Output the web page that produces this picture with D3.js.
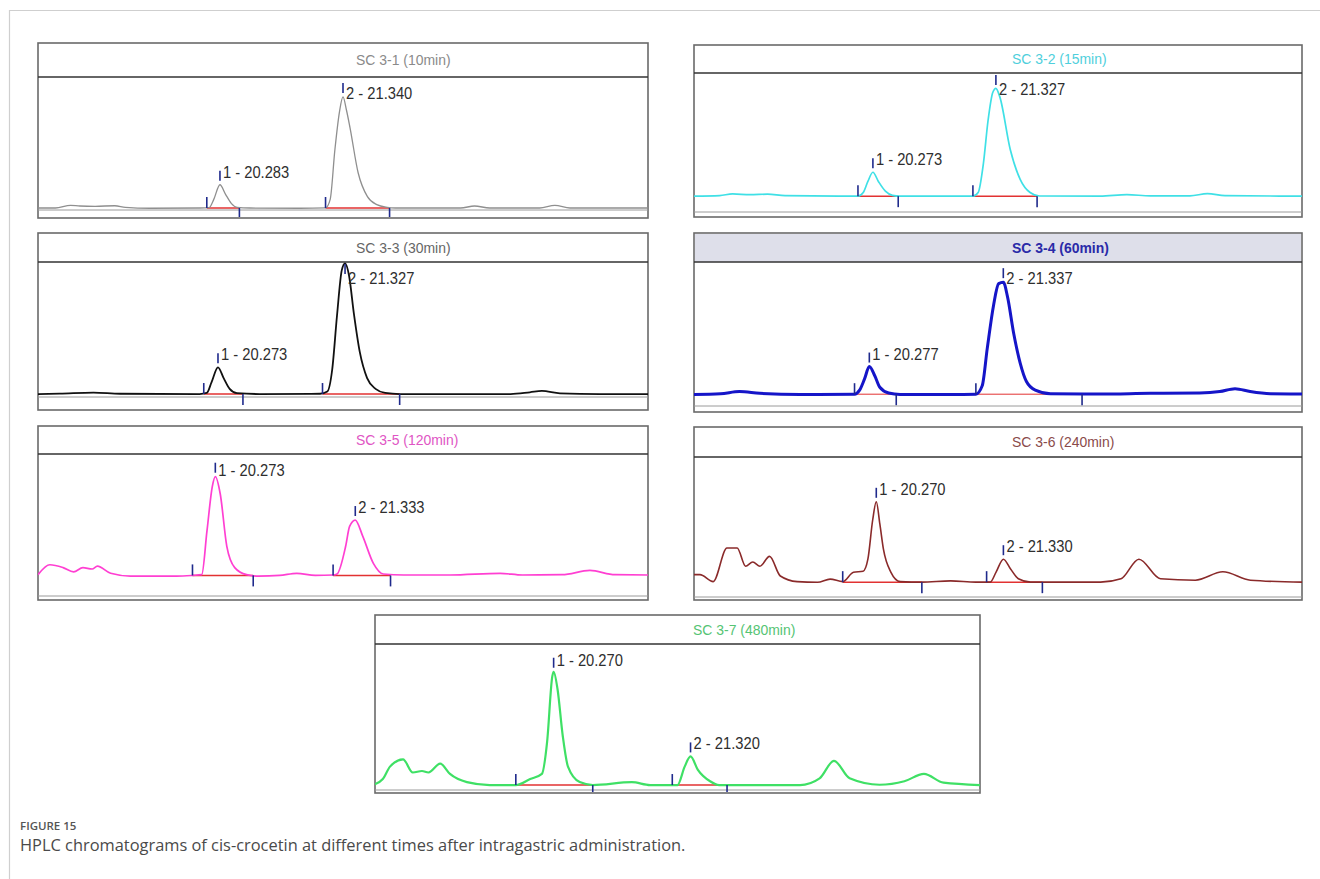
<!DOCTYPE html>
<html>
<head>
<meta charset="utf-8">
<script src="https://cdn.jsdelivr.net/npm/d3@7"></script>
<style>
  body { margin: 0; background: #fff; }
</style>
</head>
<body>
<div id="chart"></div>
<script>
// ---------------------------------------------------------------------------
// HPLC chromatograms, cis-crocetin, SC 3-1 ... SC 3-7
// x = retention time (min), y = detector response (% of plot height)
// ---------------------------------------------------------------------------

const sampleTitles = [
  'SC 3-1 (10min)', 'SC 3-2 (15min)', 'SC 3-3 (30min)', 'SC 3-4 (60min)',
  'SC 3-5 (120min)', 'SC 3-6 (240min)', 'SC 3-7 (480min)'
];

// visible retention-time window of each chromatogram
const timeWindows = [
  [18.72, 23.96], [18.74, 23.95], [18.78, 23.84], [18.89, 23.70],
  [18.93, 23.55], [18.75, 23.82], [18.90, 23.54]
];

// traces  [time, response]
const traceSC31 = [
  [18.72,1.5],[18.87,1.5],[19.00,3.5],[19.08,3],[19.21,2.8],[19.38,3.2],[19.47,2],[19.68,1.3],
  [20.11,1.5],[20.19,1.8],[20.23,8],[20.283,19],[20.33,12],[20.38,5],[20.43,2],[20.54,1.5],
  [20.97,1.3],[21.19,1.6],[21.23,8],[21.27,45],[21.31,74],[21.34,85],[21.37,75],[21.40,62],
  [21.47,28],[21.55,10],[21.63,4],[21.72,2],[21.79,1.5],[22.35,1.5],[22.47,3],[22.60,1.5],
  [23.03,1.5],[23.16,3.5],[23.29,1.5],[23.96,1.5]
];
const traceSC32 = [
  [18.74,11.4],[18.96,11.8],[19.07,13],[19.22,12.5],[19.37,12.8],[19.52,11.8],[20.145,11.4],
  [20.19,14],[20.23,22],[20.273,28.6],[20.32,22],[20.38,15],[20.44,12],[20.505,11.4],
  [21.13,11.4],[21.175,14],[21.22,35],[21.26,66],[21.30,86],[21.327,89],[21.36,83],
  [21.45,45],[21.535,23.5],[21.62,14],[21.70,11.5],[22.22,11.4],[22.45,12.5],[22.65,11.6],
  [22.99,11.6],[23.14,13.2],[23.29,11.8],[23.95,11.4]
];
const traceSC33 = [
  [18.78,2.2],[18.96,2.5],[19.24,3.3],[19.46,2.4],[20.12,2.2],[20.18,3],[20.22,11],[20.273,22],
  [20.32,14],[20.37,6],[20.43,2.8],[20.62,2.2],[21.12,2.4],[21.18,4],[21.22,20],[21.26,60],
  [21.30,94],[21.327,99],[21.36,90],[21.40,62],[21.45,33],[21.51,14],[21.58,6],[21.66,3],
  [21.78,2.2],[22.70,2.2],[22.86,3.5],[22.96,4.5],[23.11,2.7],[23.44,2.2],[23.84,2.2]
];
const traceSC34 = [
  [18.89,8],[19.10,8.5],[19.25,10],[19.41,8.8],[19.73,8],[20.16,8.2],[20.20,11],[20.24,19],
  [20.277,27.4],[20.32,21],[20.36,13],[20.43,9],[20.52,8],[20.92,8],[21.12,8.2],[21.17,14],
  [21.21,40],[21.26,70],[21.30,85],[21.337,86],[21.37,76],[21.42,50],[21.47,30],[21.52,17],
  [21.59,11],[21.71,8.5],[22.10,8.3],[22.50,8.8],[22.89,9],[23.05,10],[23.17,12],[23.29,10],
  [23.45,8.5],[23.70,8.3]
];
const traceSC35 = [
  [18.93,15],[19.02,22],[19.12,20],[19.20,17],[19.27,20],[19.34,19],[19.38,21],[19.48,16],
  [19.63,14],[19.98,14],[20.10,14.5],[20.17,15],[20.21,46],[20.25,77],[20.273,84],[20.31,72],
  [20.36,35],[20.42,20],[20.51,15],[20.60,14],[20.76,14.5],[20.89,16],[21.03,14.5],
  [21.165,14.8],[21.195,15.5],[21.26,35],[21.29,49],[21.333,53.5],[21.39,42],[21.47,23],
  [21.545,15.5],[21.70,14.8],[22.05,14.8],[22.43,16],[22.60,14.8],[22.90,15],[23.11,18],
  [23.30,15],[23.55,14.8]
];
const traceSC36 = [
  [18.75,16],[18.80,16],[18.91,11],[19.025,35],[19.11,35],[19.18,22],[19.24,25],[19.30,22],
  [19.38,29],[19.47,15],[19.61,11],[19.78,10.5],[19.885,12.8],[19.99,11],[20.08,17.7],
  [20.16,18.4],[20.20,27],[20.24,55],[20.27,68],[20.30,52],[20.33,34],[20.39,18],[20.47,11],
  [20.65,10.6],[20.89,11.5],[21.10,10.6],[21.22,10.6],[21.27,18],[21.33,27],[21.39,20],
  [21.455,13],[21.555,10.6],[22.14,10.6],[22.31,13],[22.46,27],[22.64,13],[22.93,12],
  [23.16,18],[23.39,12],[23.82,10.6]
];
const traceSC37 = [
  [18.90,4],[18.96,7.5],[19.015,16],[19.115,21],[19.19,12],[19.26,13],[19.31,12],[19.40,18],
  [19.475,11],[19.605,5.4],[19.78,3.4],[19.98,3.4],[20.09,7.5],[20.18,11],[20.22,33],
  [20.26,78],[20.27,81],[20.30,69],[20.34,37],[20.38,16],[20.47,5.4],[20.57,3.4],[20.87,5.4],
  [21.01,3.4],[21.18,3.4],[21.22,3.4],[21.275,16],[21.32,23],[21.375,14],[21.47,6],
  [21.54,3.4],[22.16,3.4],[22.31,8],[22.42,20],[22.54,8],[22.77,3.6],[22.96,6],[23.11,11],
  [23.26,5],[23.54,3.4]
];
const traces = [traceSC31, traceSC32, traceSC33, traceSC34, traceSC35, traceSC36, traceSC37];

// identified peaks (retention time, min)
const peakRT = [
  [20.283, 21.340], [20.273, 21.327], [20.273, 21.327], [20.277, 21.337],
  [20.273, 21.333], [20.270, 21.330], [20.270, 21.320]
];

// integration limits [start, end] per peak
const peakLimits = [
  [[20.17, 20.45], [21.19, 21.74]],
  [[20.145, 20.49], [21.13, 21.68]],
  [[20.155, 20.48], [21.14, 21.78]],
  [[20.16, 20.49], [21.12, 21.96]],
  [[20.10, 20.56], [21.165, 21.60]],
  [[19.99, 20.65], [21.19, 21.655]],
  [[19.98, 20.57], [21.18, 21.60]]
];

// drawn baseline level under the peaks
const baselineLevels = [1.5, 11.4, 2.2, 8.2, 14.5, 10.6, 3.4];

// ---------------------------------------------------------------------------
// layout + look
// ---------------------------------------------------------------------------
const layout = [
  { x0: 38,  x1: 648,  top: 43,  band: 77,  axis: 210, bottom: 218 },
  { x0: 694, x1: 1302, top: 45,  band: 73,  axis: 212, bottom: 217 },
  { x0: 38,  x1: 648,  top: 233, band: 262, axis: 397, bottom: 410 },
  { x0: 694, x1: 1302, top: 233, band: 262, axis: 406, bottom: 412 },
  { x0: 38,  x1: 648,  top: 426, band: 454, axis: 596, bottom: 600 },
  { x0: 694, x1: 1302, top: 427, band: 457, axis: 597, bottom: 600 },
  { x0: 375, x1: 980,  top: 615, band: 644, axis: 790, bottom: 793 }
];

const looks = [
  { line: '#8f8f8f', lw: 1.3, title: '#8a8a8a', bold: false, band: '#fff' },
  { line: '#3fe0e6', lw: 1.7, title: '#4fcfdc', bold: false, band: '#fff' },
  { line: '#111111', lw: 1.8, title: '#666666', bold: false, band: '#fff' },
  { line: '#1515c8', lw: 3.0, title: '#2a2aa8', bold: true,  band: '#dedfea' },
  { line: '#ff3fd2', lw: 1.7, title: '#e055c4', bold: false, band: '#fff' },
  { line: '#8a2a2a', lw: 1.6, title: '#8a4a4a', bold: false, band: '#fff' },
  { line: '#3fe065', lw: 2.2, title: '#55c474', bold: false, band: '#fff' }
];

const narrow = "'Liberation Sans Narrow', 'Arial Narrow', 'Liberation Sans', Arial, sans-serif";
const tickColor = '#1f2a8c';
const baseColor = '#e23232';

// squeeze text horizontally (chromatography software uses a narrow face)
function squeeze(sel, f) {
  sel.each(function () {
    const w = this.getComputedTextLength();
    d3.select(this)
      .attr('textLength', w * f)
      .attr('lengthAdjust', 'spacingAndGlyphs');
  });
}

const svg = d3.select('#chart')
  .append('svg')
    .attr('width', 1320)
    .attr('height', 879)
    .style('display', 'block');

// thin page frame
svg.append('path')
  .attr('d', 'M9.5,879 V10.5 H1320')
  .attr('fill', 'none')
  .attr('stroke', '#cfcfcf')
  .attr('stroke-width', 1.2);

const fmt = d3.format('.3f');

sampleTitles.forEach((title, i) => {
  const L = layout[i];
  const st = looks[i];
  const data = traces[i];

  const x = d3.scaleLinear().domain(timeWindows[i]).range([L.x0, L.x1]);
  const y = d3.scaleLinear().domain([0, 100]).range([L.axis, L.band]);

  const g = svg.append('g');

  // frame
  g.append('rect')
    .attr('x', L.x0).attr('y', L.top)
    .attr('width', L.x1 - L.x0).attr('height', L.bottom - L.top)
    .attr('fill', '#fff')
    .attr('stroke', '#6a6a6a')
    .attr('stroke-width', 1.6);

  // title band
  g.append('rect')
    .attr('x', L.x0 + 1).attr('y', L.top + 1)
    .attr('width', L.x1 - L.x0 - 2).attr('height', L.band - L.top - 1)
    .attr('fill', st.band);
  g.append('line')
    .attr('x1', L.x0).attr('x2', L.x1)
    .attr('y1', L.band).attr('y2', L.band)
    .attr('stroke', '#333').attr('stroke-width', 1.5);

  g.append('text')
    .attr('x', L.x0 + 318)
    .attr('y', (L.top + L.band) / 2)
    .attr('dy', '0.35em')
    .attr('font-family', narrow)
    .attr('font-size', 15)
    .attr('font-weight', st.bold ? 700 : 400)
    .attr('fill', st.title)
    .text(title)
    .call(squeeze, 0.93);

  // axis line at bottom of plot
  g.append('line')
    .attr('x1', L.x0).attr('x2', L.x1)
    .attr('y1', L.axis).attr('y2', L.axis)
    .attr('stroke', '#9a9a9a').attr('stroke-width', 1);

  // clip for the trace
  const clipId = `clip${i}`;
  g.append('clipPath').attr('id', clipId)
    .append('rect')
      .attr('x', L.x0).attr('y', L.band)
      .attr('width', L.x1 - L.x0).attr('height', L.bottom - L.band);

  const yb = y(baselineLevels[i]);

  // integration baselines (red)
  g.selectAll('.base')
    .data(peakLimits[i])
    .join('line')
      .attr('x1', d => x(d[0])).attr('x2', d => x(d[1]))
      .attr('y1', yb).attr('y2', yb)
      .attr('stroke', baseColor)
      .attr('stroke-width', i === 3 ? 1 : 1.5);

  // trace
  const line = d3.line()
    .x(d => x(d[0]))
    .y(d => y(d[1]))
    .curve(d3.curveMonotoneX);

  g.append('path')
    .datum(data)
    .attr('clip-path', `url(#${clipId})`)
    .attr('d', line)
    .attr('fill', 'none')
    .attr('stroke', st.line)
    .attr('stroke-width', st.lw)
    .attr('stroke-linejoin', 'round');

  // start / end ticks
  peakLimits[i].forEach(([s, e]) => {
    g.append('line')
      .attr('x1', x(s)).attr('x2', x(s))
      .attr('y1', yb - 11).attr('y2', yb)
      .attr('stroke', tickColor).attr('stroke-width', 1.6);
    g.append('line')
      .attr('x1', x(e)).attr('x2', x(e))
      .attr('y1', yb).attr('y2', Math.min(yb + 11, L.bottom - 1))
      .attr('stroke', tickColor).attr('stroke-width', 1.6);
  });

  // peak labels
  peakRT[i].forEach((rt, k) => {
    const near = data.filter(d => Math.abs(d[0] - rt) < 0.05);
    const apexV = d3.max(near, d => d[1]);
    const ax = x(rt);
    const ay = y(apexV);
    const tTop = Math.max(ay - 14, L.band + 2);
    g.append('line')
      .attr('x1', ax).attr('x2', ax)
      .attr('y1', tTop).attr('y2', tTop + 10)
      .attr('stroke', tickColor).attr('stroke-width', 1.6);
    g.append('text')
      .attr('x', ax + 3)
      .attr('y', Math.max(ay - 7, L.band + 22))
      .attr('font-family', narrow)
      .attr('font-size', 16)
      .attr('fill', '#2e2e2e')
      .text(`${k + 1} - ${fmt(rt)}`)
      .call(squeeze, 0.92);
  });
});

// caption
svg.append('text')
  .attr('x', 20).attr('y', 830)
  .attr('font-family', "'Open Sans', 'Noto Sans', sans-serif")
  .attr('font-size', 11.5)
  .attr('font-weight', 600)
  .attr('fill', '#555')
  .text('FIGURE 15');

svg.append('text')
  .attr('x', 20).attr('y', 851)
  .attr('font-family', "'Open Sans', 'Noto Sans', sans-serif")
  .attr('font-size', 16.4)
  .attr('fill', '#4a4a4a')
  .text('HPLC chromatograms of cis-crocetin at different times after intragastric administration.');
</script>
</body>
</html>
